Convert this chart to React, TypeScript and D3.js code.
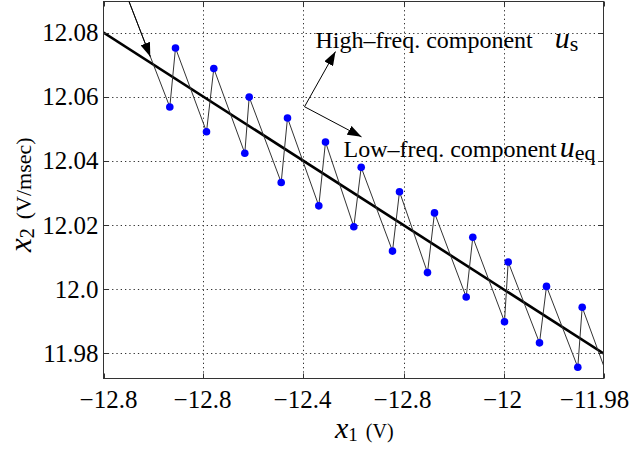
import React from "react";
import * as d3 from "d3";

// Axis ticks and their printed labels
const xTicks = [-12.5, -12.4, -12.3, -12.2, -12.1, -12.0];
const xTickLabels = ["−12.8", "−12.8", "−12.4", "−12.8", "−12", "−11.98"];
const yTicks = [11.98, 12.0, 12.02, 12.04, 12.06, 12.08];
const yTickLabels = ["11.98", "12.0", "12.02", "12.04", "12.06", "12.08"];

// Sliding trajectory (thin zig-zag), including entry and exit segments
const trajX = [
  -12.4745, -12.4337, -12.428, -12.397, -12.3897, -12.3587, -12.3543, -12.3223, -12.316,
  -12.2847, -12.278, -12.2497, -12.2423, -12.211, -12.204, -12.176, -12.169, -12.1373,
  -12.1307, -12.099, -12.0953, -12.064, -12.057, -12.0257, -12.0213, -12.0,
];
const trajY = [
  12.0897, 12.0568, 12.0752, 12.0491, 12.0688, 12.0424, 12.0599, 12.0333, 12.0534,
  12.026, 12.0459, 12.0195, 12.038, 12.0119, 12.0304, 12.0052, 12.0238, 11.9976,
  12.0162, 11.9899, 12.0085, 11.9833, 12.0009, 11.9757, 11.9944, 11.9763,
];
// Sampled states (blue dots): every vertex between entry and exit
const sampleIdx = d3.range(1, trajX.length - 1);

// Equivalent (low-frequency) motion: straight sliding line
const eqX = [-12.5, -12.0];
const eqY = [12.08, 11.98];

// Arrow along the entry segment (tail, tip)
const entryArrow = { x: [-12.4745, -12.4532], y: [12.0897, 12.0725] };
// Annotation arrows from a common origin
const annOrigin = { x: -12.299, y: 12.0569 };
const annHighTip = { x: -12.268, y: 12.0741 };
const annLowTip = { x: -12.242, y: 12.0475 };
const annHighText = { x: -12.288, y: 12.0753 };
const annLowText = { x: -12.26, y: 12.0413 };

const W = 631;
const H = 455;
const plot = { left: 103.5, right: 603.5, top: 1.5, bottom: 378.5 };
const FONT = "Liberation Serif, Times New Roman, Times, DejaVu Serif, serif";

export default function App() {
  const x = d3.scaleLinear().domain([-12.5, -12.0]).range([plot.left, plot.right]);
  const y = d3
    .scaleLinear()
    .domain([11.97219, 12.08969])
    .range([plot.bottom, plot.top]);

  const traj = d3
    .line<number>()
    .x((i) => x(trajX[i]))
    .y((i) => y(trajY[i]))(d3.range(trajX.length)) as string;
  const eq = d3
    .line<number>()
    .x((i) => x(eqX[i]))
    .y((i) => y(eqY[i]))(d3.range(eqX.length)) as string;

  const tickLen = 5;
  const gridColor = "#333";
  const fontStyle = { fontFamily: FONT };

  return (
    <div style={{ position: "fixed", left: 0, top: 0 }}>
      <svg width={W} height={H} viewBox={`0 0 ${W} ${H}`} style={{ display: "block", background: "#fff", ...fontStyle }}>
        <defs>
          <clipPath id="plotClip">
            <rect x={plot.left} y={plot.top} width={plot.right - plot.left} height={plot.bottom - plot.top} />
          </clipPath>
          <marker
            id="head"
            viewBox="0 0 14 10"
            refX={14}
            refY={5}
            markerWidth={14}
            markerHeight={10}
            markerUnits="userSpaceOnUse"
            orient="auto"
          >
            <path d="M0,0 L14,5 L0,10 Z" fill="#000" />
          </marker>
        </defs>

        {/* dotted grid */}
        <g stroke={gridColor} strokeWidth={1} strokeDasharray="1.3 3">
          {xTicks.slice(1, -1).map((t) => (
            <line key={`gx${t}`} x1={Math.round(x(t)) + 0.5} x2={Math.round(x(t)) + 0.5} y1={plot.top} y2={plot.bottom} />
          ))}
          {yTicks.map((t) => (
            <line key={`gy${t}`} x1={plot.left} x2={plot.right} y1={Math.round(y(t)) + 0.5} y2={Math.round(y(t)) + 0.5} />
          ))}
        </g>

        {/* data */}
        <g clipPath="url(#plotClip)">
          <path d={eq} fill="none" stroke="#000" strokeWidth={2.6} />
          <path d={traj} fill="none" stroke="#333" strokeWidth={1} />
          {sampleIdx.map((i) => (
            <circle key={i} cx={x(trajX[i])} cy={y(trajY[i])} r={3.8} fill="#0000ff" />
          ))}
        </g>

        {/* box and inward ticks */}
        <rect
          x={plot.left}
          y={plot.top}
          width={plot.right - plot.left}
          height={plot.bottom - plot.top}
          fill="none"
          stroke="#333"
          strokeWidth={1}
        />
        <g stroke="#333" strokeWidth={1}>
          {xTicks.map((t) => {
            const px = Math.round(x(t)) + 0.5;
            return (
              <g key={`tx${t}`}>
                <line x1={px} x2={px} y1={plot.bottom} y2={plot.bottom - tickLen} />
                <line x1={px} x2={px} y1={plot.top} y2={plot.top + tickLen} />
              </g>
            );
          })}
          {yTicks.map((t) => {
            const py = Math.round(y(t)) + 0.5;
            return (
              <g key={`ty${t}`}>
                <line x1={plot.left} x2={plot.left + tickLen} y1={py} y2={py} />
                <line x1={plot.right} x2={plot.right - tickLen} y1={py} y2={py} />
              </g>
            );
          })}
        </g>

        {/* tick labels */}
        <g style={{ ...fontStyle, fontSize: 25 }} fill="#000">
          {yTicks.map((t, i) => (
            <text key={`ly${t}`} x={plot.left - 5} y={y(t)} dy="0.34em" textAnchor="end">
              {yTickLabels[i]}
            </text>
          ))}
          {xTicks.map((t, i) => {
            const nudge = i === 0 ? 5 : i === xTicks.length - 1 ? -9 : -1;
            return (
              <text key={`lx${t}`} x={x(t) + nudge} y={plot.bottom + 29} textAnchor="middle">
                {xTickLabels[i]}
              </text>
            );
          })}
        </g>

        {/* axis titles */}
        <text x={335} y={438} style={fontStyle} fill="#000">
          <tspan fontStyle="italic" fontSize={30}>x</tspan>
          <tspan fontSize={19} dy={3}>1</tspan>
          <tspan fontSize={20} dy={-3} dx={8}>(V)</tspan>
        </text>
        <text transform="translate(31,252) rotate(-90)" style={fontStyle} fill="#000">
          <tspan fontStyle="italic" fontSize={31}>x</tspan>
          <tspan fontSize={20} dy={3}>2</tspan>
          <tspan fontSize={22} dy={-3} dx={9}>(V/msec)</tspan>
        </text>

        {/* annotations */}
        <g stroke="#000" strokeWidth={1} fill="none">
          <line
            x1={x(entryArrow.x[0])}
            y1={y(entryArrow.y[0])}
            x2={x(entryArrow.x[1])}
            y2={y(entryArrow.y[1])}
            markerEnd="url(#head)"
          />
          <line x1={x(annOrigin.x)} y1={y(annOrigin.y)} x2={x(annHighTip.x)} y2={y(annHighTip.y)} markerEnd="url(#head)" />
          <line x1={x(annOrigin.x)} y1={y(annOrigin.y)} x2={x(annLowTip.x)} y2={y(annLowTip.y)} markerEnd="url(#head)" />
        </g>
        <text x={x(annHighText.x)} y={y(annHighText.y)} style={{ ...fontStyle, fontSize: 24 }} fill="#000">
          High–freq. component
          <tspan dx={22} fontStyle="italic" fontSize={30}>u</tspan>
          <tspan fontSize={22} dy={3}>s</tspan>
        </text>
        <text x={x(annLowText.x)} y={y(annLowText.y)} style={{ ...fontStyle, fontSize: 24 }} fill="#000">
          Low–freq. component
          <tspan dx={3} fontStyle="italic" fontSize={30}>u</tspan>
          <tspan fontSize={22} dy={3}>eq</tspan>
        </text>
      </svg>
    </div>
  );
}
